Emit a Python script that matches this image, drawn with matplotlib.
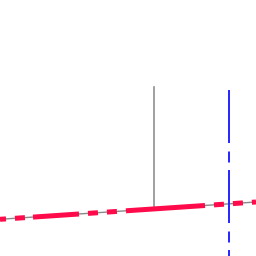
import matplotlib
matplotlib.use("Agg")
import matplotlib.pyplot as plt

plt.rcParams['lines.scale_dashes'] = False

# Data (x positions and heights, y measured upward)
red_x = [0, 33, 79, 126, 205, 256]
red_y = [36.7, 38.9, 42.0, 45.2, 50.5, 54.0]
red_styles = ['dashed', 'solid', 'dashed', 'solid', 'dashed']
red_offsets = [4, 0, 10, 0, 10]

gray_vline_x = 154
gray_vline_y = [46.9, 169]

blue_vline_x = 229
blue_vline_y = [166, 0]

PX = 0.72  # points per pixel at dpi 100

fig = plt.figure(figsize=(2.56, 2.56), dpi=100)
ax = fig.add_axes([0, 0, 1, 1])
ax.set_xlim(0, 256)
ax.set_ylim(0, 256)
ax.axis('off')

# thin gray base line under the red one
ax.plot([red_x[0], red_x[-1]], [red_y[0], red_y[-1]], color='#8a8a8a', lw=1.4 * PX, zorder=1)

# gray vertical
ax.plot([gray_vline_x, gray_vline_x], gray_vline_y, color='#8a8a8a', lw=1.6 * PX, zorder=1)

# red line in pieces
for i, style in enumerate(red_styles):
    xs = red_x[i:i + 2]
    ys = red_y[i:i + 2]
    if style == 'solid':
        ax.plot(xs, ys, color='#ff0a4a', lw=5 * PX, solid_capstyle='butt', zorder=3)
    else:
        ax.plot(xs, ys, color='#ff0a4a', lw=5 * PX, dash_capstyle='butt', zorder=3,
                linestyle=(red_offsets[i] * PX, (10 * PX, 9 * PX)))

# blue vertical dash-dot
ax.plot([blue_vline_x, blue_vline_x], blue_vline_y, color='#2b2bff', lw=2 * PX,
        dash_capstyle='butt', zorder=2,
        linestyle=(0, (53 * PX, 8.5 * PX, 11 * PX, 7.5 * PX)))

fig.savefig('out.png', dpi=100)
